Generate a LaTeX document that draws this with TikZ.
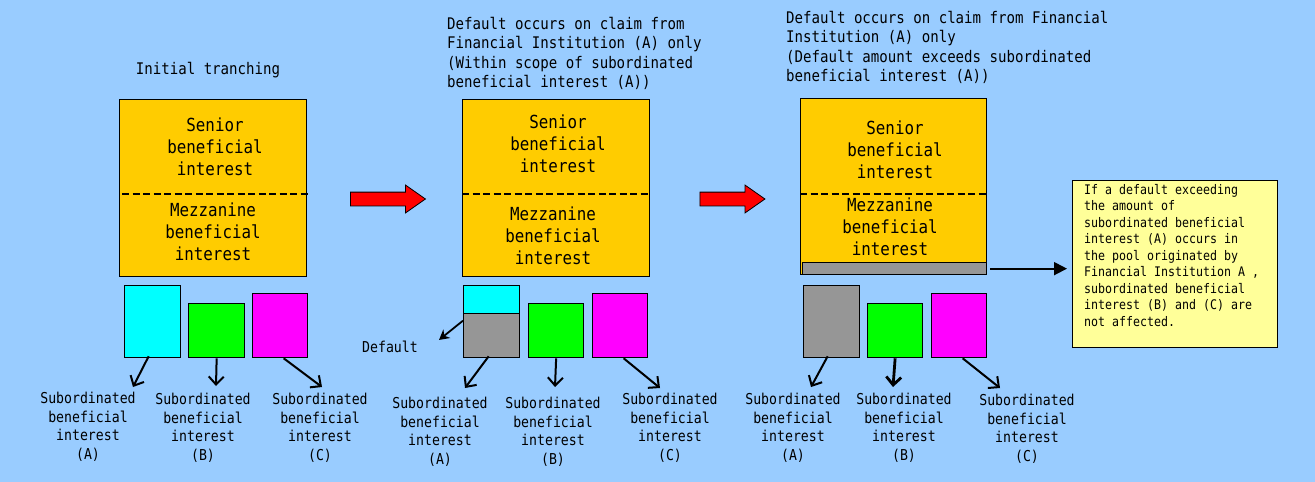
\documentclass[tikz,border=0pt]{standalone}
\usepackage{fontspec}
\setmainfont[FakeStretch=0.88]{DejaVu Sans Mono}
\usetikzlibrary{arrows.meta,shapes.arrows}
\definecolor{sky}{HTML}{99CCFF}
\definecolor{amber}{HTML}{FFCC00}
\definecolor{aqua}{HTML}{00FFFF}
\definecolor{leaf}{HTML}{00FF00}
\definecolor{pinkish}{HTML}{FF00FF}
\definecolor{ash}{HTML}{969696}
\definecolor{memo}{HTML}{FFFF99}

\begin{document}
\begin{tikzpicture}[x=1pt,y=-1pt,
  trunk/.style={draw,line width=1.3pt,fill=amber,anchor=north west,inner sep=0pt,minimum width=187pt,minimum height=177pt},
  piece/.style={draw,line width=1.3pt,anchor=north west,inner sep=0pt},
  tranche/.style={align=center,inner sep=0pt,font=\fontsize{18}{22}\selectfont},
  caption/.style={align=center,inner sep=0pt,anchor=north,font=\fontsize{15}{18.5}\selectfont},
  heading/.style={align=left,inner sep=0pt,anchor=north west,font=\fontsize{16}{19.5}\selectfont},
  cut/.style={line width=1.8pt,dash pattern=on 7pt off 3.5pt},
  flow/.style={line width=2pt,-{Straight Barb[length=8pt,width=15pt]}},
  handover/.style={single arrow,fill=red,draw=black,line width=0.8pt,inner sep=6.5pt,
    single arrow head extend=7pt,single arrow tip angle=70}
]
  \fill[sky] (0,0) rectangle (1315,482);
  \useasboundingbox (0,0) rectangle (1315,482);

  % panel 1: initial tranching
  \node[heading,anchor=center] (title1) at (208,70) {Initial tranching};
  \node[trunk] (trunk1) at (119,99) {};
  \draw[cut] (122,194) -- (308,194);
  \node[tranche] (senior1) at (215,147) {Senior\\beneficial\\interest};
  \node[tranche] (mezz1) at (213,232) {Mezzanine\\beneficial\\interest};
  \node[piece,fill=aqua,minimum width=56pt,minimum height=72pt] (a1) at (124,285) {};
  \node[piece,fill=leaf,minimum width=56pt,minimum height=54pt] (b1) at (188,303) {};
  \node[piece,fill=pinkish,minimum width=55pt,minimum height=64pt] (c1) at (252,293) {};
  \node[caption] (labA1) at (88,392) {Subordinated\\beneficial\\interest\\(A)};
  \node[caption] (labB1) at (203,393) {Subordinated\\beneficial\\interest\\(B)};
  \node[caption] (labC1) at (320,393) {Subordinated\\beneficial\\interest\\(C)};
  \draw[flow] ([xshift=-4pt,yshift=2pt]a1.south) -- ([xshift=45pt,yshift=5pt]labA1.north);
  \draw[flow] (b1.south) -- ([xshift=13pt,yshift=7pt]labB1.north);
  \draw[flow] ([xshift=3.5pt]c1.south) -- ([xshift=2pt,yshift=6pt]labC1.north);

  \node[handover,minimum height=75pt] (push1) at (383,199) {};

  % panel 2: default within subordinated (A)
  \node[heading] (title2) at (447,17) {Default occurs on claim from\\Financial Institution (A) only\\(Within scope of subordinated\\beneficial interest (A))};
  \node[trunk] (trunk2) at (462,99) {};
  \draw[cut] (462,194) -- (649,194);
  \node[tranche] (senior2) at (558,144) {Senior\\beneficial\\interest};
  \node[tranche] (mezz2) at (553,236) {Mezzanine\\beneficial\\interest};
  \node[piece,fill=aqua,minimum width=56pt,minimum height=28pt] (a2top) at (463,285) {};
  \node[piece,fill=ash,minimum width=56pt,minimum height=44pt] (a2) at (463,313) {};
  \node[piece,fill=leaf,minimum width=55pt,minimum height=54pt] (b2) at (528,303) {};
  \node[piece,fill=pinkish,minimum width=55pt,minimum height=64pt] (c2) at (592,293) {};
  \node[caption,anchor=center] (dflt) at (390,347) {Default};
  \node[caption] (labA2) at (440,397) {Subordinated\\beneficial\\interest\\(A)};
  \node[caption] (labB2) at (553,397) {Subordinated\\beneficial\\interest\\(B)};
  \node[caption] (labC2) at (670,393) {Subordinated\\beneficial\\interest\\(C)};
  \draw[line width=1.8pt,-{Stealth[length=10pt,width=11pt]}] ([yshift=15pt]a2.west) -- ([xshift=21pt,yshift=1pt]dflt.north east);
  \draw[flow] ([xshift=-3pt,yshift=2pt]a2.south) -- ([xshift=25pt,yshift=9pt]labA2.north);
  \draw[flow] (b2.south) -- ([xshift=2pt,yshift=10pt]labB2.north);
  \draw[flow] ([xshift=3.5pt]c2.south) -- ([xshift=-10pt,yshift=5pt]labC2.north);

  \node[handover,minimum height=65pt] (push2) at (727.5,199) {};

  % panel 3: default beyond subordinated (A)
  \node[heading] (title3) at (786,11) {Default occurs on claim from Financial\\Institution (A) only\\(Default amount exceeds subordinated\\beneficial interest (A))};
  \node[trunk,minimum width=186pt,minimum height=176pt] (trunk3) at (800,98) {};
  \draw[cut] (800,194) -- (988,194);
  \node[tranche] (senior3) at (895,150) {Senior\\beneficial\\interest};
  \node[tranche] (mezz3) at (890,227) {Mezzanine\\beneficial\\interest};
  \node[piece,fill=ash,minimum width=184pt,minimum height=12pt] (strip3) at (802,262) {};
  \node[piece,fill=ash,minimum width=56pt,minimum height=72pt] (a3) at (803,285) {};
  \node[piece,fill=leaf,minimum width=55pt,minimum height=54pt] (b3) at (867,303) {};
  \node[piece,fill=pinkish,minimum width=55pt,minimum height=64pt] (c3) at (931,293) {};
  \node[caption] (labA3) at (793,393) {Subordinated\\beneficial\\interest\\(A)};
  \node[caption] (labB3) at (904,393) {Subordinated\\beneficial\\interest\\(B)};
  \node[caption] (labC3) at (1027,394) {Subordinated\\beneficial\\interest\\(C)};
  \draw[flow] ([xshift=-4pt,yshift=2pt]a3.south) -- ([xshift=18pt,yshift=6pt]labA3.north);
  \draw[flow,line width=2.8pt] (b3.south) -- ([xshift=-11pt,yshift=6pt]labB3.north);
  \draw[flow] ([xshift=3.5pt]c3.south) -- ([xshift=-27pt,yshift=6pt]labC3.north);

  % note
  \node[piece,fill=memo,minimum width=205pt,minimum height=167pt] (note) at (1072,180) {};
  \node[heading,font=\fontsize{13.2}{16.5}\selectfont] (notetext) at (1084,184) {If a default exceeding\\the amount of\\subordinated beneficial\\interest (A) occurs in\\the pool originated by\\Financial Institution A ,\\subordinated beneficial\\interest (B) and (C) are\\not affected.};
  \draw[line width=1.8pt,-{Triangle[length=13pt,width=13pt]},shorten <=3pt,shorten >=5pt]
    (strip3.east) -- (strip3.east -| note.west);
\end{tikzpicture}
\end{document}
